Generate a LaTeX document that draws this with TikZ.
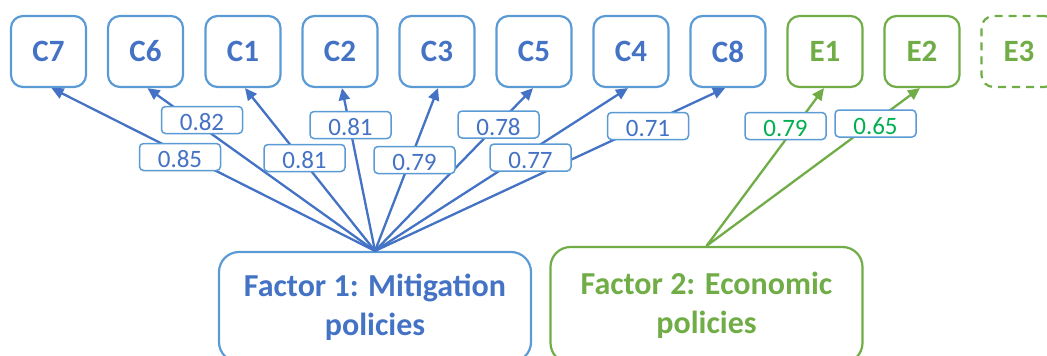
\documentclass[tikz,border=0pt]{standalone}
\usepackage{fontspec}
\setmainfont{Carlito}
\usetikzlibrary{arrows.meta}
\definecolor{navy}{HTML}{4472C4}
\definecolor{edgeblue}{HTML}{5B9BD5}
\definecolor{leaf}{HTML}{70AD47}
\definecolor{loadgreen}{HTML}{00B050}
\begin{document}
\begin{tikzpicture}[x=1pt,y=-1pt,
  item/.style={draw=edgeblue, line width=2.2pt, rounded corners=12pt,
    minimum width=75pt, minimum height=71pt, inner sep=0pt,
    font=\fontsize{31}{37}\selectfont\bfseries, text=navy},
  eitem/.style={item, draw=leaf, text=leaf},
  factor/.style={line width=2.2pt, rounded corners=20pt, minimum width=312pt,
    inner sep=0pt, align=center, font=\fontsize{32}{39}\selectfont\bfseries},
  load/.style={draw=edgeblue, fill=white, line width=1.5pt, rounded corners=4pt,
    minimum width=81pt, minimum height=27pt, inner sep=0pt,
    text height=22pt, text depth=1pt, font=\fontsize{25}{30}\selectfont, text=navy},
  gload/.style={load, text=loadgreen},
  link/.style={navy, line width=2.3pt, -{Triangle[length=12pt,width=11pt]}},
  glink/.style={link, leaf}]
\useasboundingbox (0,0) rectangle (1047,356);
\clip (0,0) rectangle (1047,356);

% indicator items
\node[item] (c7) at (48.5,51.5) {C7};
\node[item] (c6) at (145.5,51.5) {C6};
\node[item] (c1) at (243,51.5) {C1};
\node[item] (c2) at (340,51.5) {C2};
\node[item] (c3) at (437,51.5) {C3};
\node[item] (c5) at (534,51.5) {C5};
\node[item] (c4) at (631,51.5) {C4};
\node[item] (c8) at (728,51.5) {C8};
\node[eitem] (e1) at (825,51.5) {E1};
\node[eitem] (e2) at (922,51.5) {E2};
\node[eitem, dashed, dash pattern=on 8pt off 6pt] (e3) at (1019,51.5) {E3};

% factors
\node[factor, draw=edgeblue, text=navy, minimum height=110pt] (f1) at (375,307)
  {Factor 1: Mitigation\\policies};
\node[factor, draw=leaf, text=leaf, minimum height=116pt] (f2) at (706.5,305)
  {Factor 2: Economic\\policies};

% loadings
\draw[link] (f1.north) -- ([xshift=3pt]c7.south);
\draw[link] (f1.north) -- ([xshift=2pt]c6.south);
\draw[link] (f1.north) -- ([xshift=2pt]c1.south);
\draw[link] (f1.north) -- ([xshift=2pt]c2.south);
\draw[link] (f1.north) -- ([xshift=1pt]c3.south);
\draw[link] (f1.north) -- ([xshift=-1pt]c5.south);
\draw[link] (f1.north) -- ([xshift=-3pt]c4.south);
\draw[link] (f1.north) -- ([xshift=-3pt]c8.south);
\draw[glink] (f2.north) -- ([xshift=-1pt]e1.south);
\draw[glink] (f2.north) -- ([xshift=-2pt]e2.south);

% loading values
\node[load] (l7) at (180,157) {0.85};
\node[load] (l6) at (202,120) {0.82};
\node[load] (l1) at (304.5,158) {0.81};
\node[load] (l2) at (350.5,125) {0.81};
\node[load] (l3) at (414.5,160) {0.79};
\node[load] (l5) at (498.5,124.5) {0.78};
\node[load] (l4) at (530.5,157.5) {0.77};
\node[load] (l8) at (648,126) {0.71};
\node[gload] (le1) at (785.5,126) {0.79};
\node[gload] (le2) at (875.5,123.5) {0.65};
\end{tikzpicture}
\end{document}
